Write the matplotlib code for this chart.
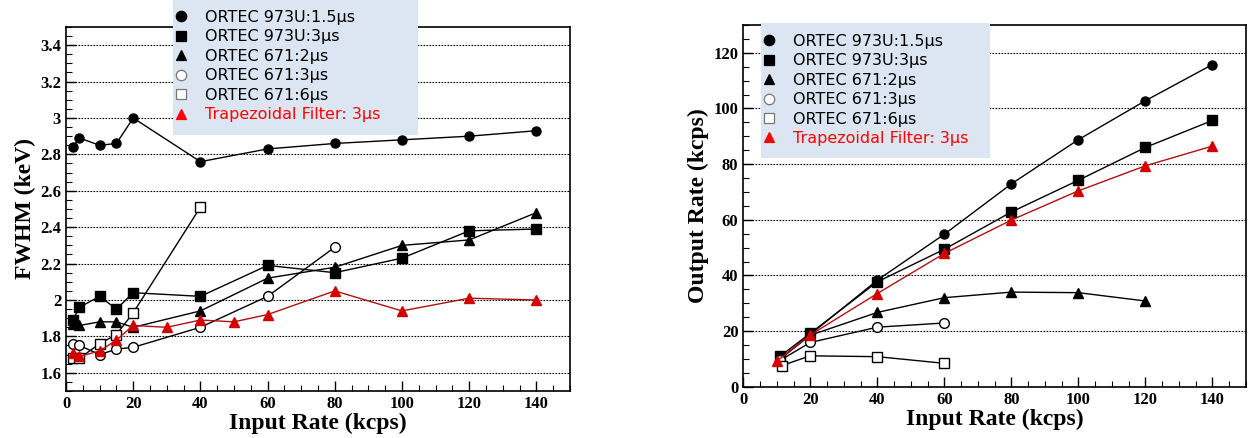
import matplotlib
matplotlib.use('Agg')
import matplotlib.pyplot as plt
from matplotlib.lines import Line2D
from matplotlib.patches import Rectangle
from matplotlib.ticker import MultipleLocator

# подписи серий
labels = ['ORTEC 973U:1.5μs', 'ORTEC 973U:3μs', 'ORTEC 671:2μs',
          'ORTEC 671:3μs', 'ORTEC 671:6μs', 'Trapezoidal Filter: 3μs']

# левый график: FWHM (keV)
fw_973_15_x = [2, 4, 10, 15, 20, 40, 60, 80, 100, 120, 140]
fw_973_15_y = [2.84, 2.89, 2.85, 2.86, 3.00, 2.76, 2.83, 2.86, 2.88, 2.90, 2.93]
fw_973_3_x = [2, 4, 10, 15, 20, 40, 60, 80, 100, 120, 140]
fw_973_3_y = [1.89, 1.96, 2.02, 1.95, 2.04, 2.02, 2.19, 2.15, 2.23, 2.38, 2.39]
fw_671_2_x = [2, 4, 10, 15, 20, 40, 60, 80, 100, 120, 140]
fw_671_2_y = [1.87, 1.86, 1.88, 1.88, 1.85, 1.94, 2.12, 2.18, 2.30, 2.33, 2.48]
fw_671_3_x = [2, 4, 10, 15, 20, 40, 60, 80]
fw_671_3_y = [1.76, 1.75, 1.70, 1.73, 1.74, 1.85, 2.02, 2.29]
fw_671_6_x = [2, 4, 10, 15, 20, 40]
fw_671_6_y = [1.68, 1.68, 1.76, 1.81, 1.93, 2.51]
fw_trap_x = [2, 4, 10, 15, 20, 30, 40, 50, 60, 80, 100, 120, 140]
fw_trap_y = [1.71, 1.69, 1.72, 1.78, 1.86, 1.85, 1.89, 1.88, 1.92, 2.05, 1.94, 2.01, 2.00]

# правый график: Output Rate (kcps)
out_973_15_x = [11, 20, 40, 60, 80, 100, 120, 140]
out_973_15_y = [10.0, 18.8, 38.3, 54.8, 72.9, 88.8, 102.8, 115.8]
out_973_3_x = [11, 20, 40, 60, 80, 100, 120, 140]
out_973_3_y = [11.0, 19.2, 37.7, 49.4, 62.8, 74.2, 86.0, 95.7]
out_671_2_x = [11, 20, 40, 60, 80, 100, 120]
out_671_2_y = [10.0, 18.5, 26.7, 32.0, 34.0, 33.8, 30.8]
out_671_3_x = [11, 20, 40, 60]
out_671_3_y = [9.5, 15.9, 21.4, 22.9]
out_671_6_x = [11.5, 20, 40, 60]
out_671_6_y = [7.6, 11.1, 10.8, 8.4]
out_trap_x = [10, 20, 40, 60, 80, 100, 120, 140]
out_trap_y = [9.2, 18.6, 33.5, 47.9, 59.9, 70.4, 79.4, 86.5]

left_data = [(fw_973_15_x, fw_973_15_y), (fw_973_3_x, fw_973_3_y),
             (fw_671_2_x, fw_671_2_y), (fw_671_3_x, fw_671_3_y),
             (fw_671_6_x, fw_671_6_y), (fw_trap_x, fw_trap_y)]
right_data = [(out_973_15_x, out_973_15_y), (out_973_3_x, out_973_3_y),
              (out_671_2_x, out_671_2_y), (out_671_3_x, out_671_3_y),
              (out_671_6_x, out_671_6_y), (out_trap_x, out_trap_y)]

markers = ['o', 's', '^', 'o', 's', '^']
fills = ['black', 'black', 'black', 'white', 'white', '#d40000']
edges = ['black', 'black', 'black', 'black', 'black', '#d40000']
lcolors = ['black', 'black', 'black', 'black', 'black', '#b01010']
msizes = [6.5, 6.5, 6.5, 7, 7, 6.5]

serif = 'Liberation Serif'
W, H = 1253, 438

fig = plt.figure(figsize=(12.53, 4.38), dpi=100)
ax1 = fig.add_axes([0.0527, 0.1073, 0.4022, 0.8311])
ax2 = fig.add_axes([0.5932, 0.1171, 0.4012, 0.8258])


def draw(ax, data):
    for i, (x, y) in enumerate(data):
        ax.plot(x, y, color=lcolors[i], lw=1.0, marker=markers[i], ms=msizes[i],
                mfc=fills[i], mec=edges[i], mew=1.0, zorder=3)
    ax.grid(axis='y', which='major', color='black', ls=(0, (1.5, 1.2)), lw=0.8)
    ax.tick_params(which='both', direction='in', top=False, right=False)
    ax.tick_params(which='major', length=7, width=1)
    ax.tick_params(which='minor', length=4, width=0.8)
    for s in ax.spines.values():
        s.set_linewidth(1.2)
    for t in ax.get_xticklabels() + ax.get_yticklabels():
        t.set_fontfamily(serif)
        t.set_fontweight('bold')
        t.set_fontsize(12)
    ax.set_xlabel('Input Rate (kcps)', family=serif, weight='bold', fontsize=17, labelpad=1)


ax1.set_xlim(0, 150)
ax1.set_ylim(1.5, 3.5)
ax1.xaxis.set_major_locator(MultipleLocator(20))
ax1.xaxis.set_minor_locator(MultipleLocator(5))
ax1.yaxis.set_major_locator(MultipleLocator(0.2))
ax1.yaxis.set_minor_locator(MultipleLocator(0.05))
ax1.yaxis.set_major_formatter(plt.FuncFormatter(lambda v, _: f'{v:.0f}' if abs(v - round(v)) < 1e-9 else f'{v:.1f}'))
draw(ax1, left_data)
ax1.set_ylabel('FWHM (keV)', family=serif, weight='bold', fontsize=17, labelpad=3)

ax2.set_xlim(0, 150)
ax2.set_ylim(0, 130)
ax2.xaxis.set_major_locator(MultipleLocator(20))
ax2.xaxis.set_minor_locator(MultipleLocator(5))
ax2.yaxis.set_major_locator(MultipleLocator(20))
ax2.yaxis.set_minor_locator(MultipleLocator(5))
draw(ax2, right_data)
ax2.set_ylabel('Output Rate (kcps)', family=serif, weight='bold', fontsize=17, labelpad=3)

# легенды: голубой прямоугольник поверх осей и легенда без рамки
handles = []
for i in range(6):
    mfc = fills[i] if i != 5 else 'red'
    mec = edges[i] if i < 3 else ('#777777' if i < 5 else 'red')
    handles.append(Line2D([], [], ls='none', marker=markers[i], ms=7.5, mfc=mfc, mec=mec, mew=0.9))

# (левый край, верх, ширина, высота) прямоугольника в пикселях, центр первой строки
boxes = [((173, 0, 245, 134.7), 17.8), ((761, 23.3, 229, 135), 41.5)]
for (bx, by, bw, bh), row0 in boxes:
    fig.add_artist(Rectangle((bx / W, 1 - (by + bh) / H), bw / W, bh / H,
                             transform=fig.transFigure, facecolor='#dce6f2',
                             edgecolor='none', zorder=4))
    leg = fig.legend(handles, labels, loc='upper left',
                     bbox_to_anchor=((bx + 8 - 4.6) / W, 1 - (row0 - 7.8) / H),
                     bbox_transform=fig.transFigure, borderaxespad=0, borderpad=0,
                     frameon=False, fontsize=11.5, handlelength=0.6, handletextpad=1.22,
                     labelspacing=0.28)
    leg.get_texts()[-1].set_color('red')
    leg.set_zorder(5)

fig.savefig('out.png', dpi=100)
